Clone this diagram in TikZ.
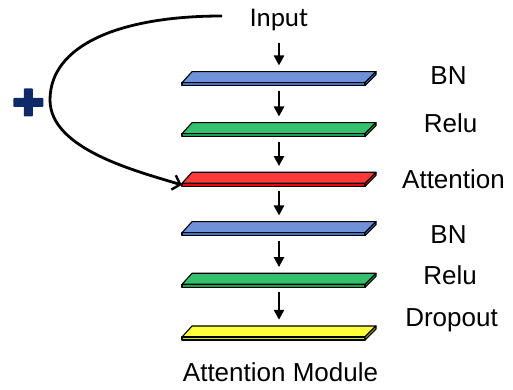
\documentclass[tikz,border=0pt]{standalone}
\usepackage{fontspec}
\setmainfont{Liberation Sans}
\newfontfamily\inputfont{Carlito}
\usetikzlibrary{arrows.meta,calc}

\definecolor{bnTop}{RGB}{110,145,215}
\definecolor{bnFront}{RGB}{68,114,196}
\definecolor{reluTop}{RGB}{52,192,108}
\definecolor{reluFront}{RGB}{30,160,80}
\definecolor{attTop}{RGB}{255,58,58}
\definecolor{attFront}{RGB}{232,10,10}
\definecolor{dropTop}{RGB}{255,255,60}
\definecolor{dropFront}{RGB}{222,222,20}
\definecolor{plusblue}{RGB}{14,42,104}

\tikzset{
  layerbox/.style={rectangle, minimum width=194pt, minimum height=14pt, inner sep=0pt},
  lbl/.style={anchor=base, inner sep=0pt, font=\fontsize{26}{30}\selectfont},
  flow/.style={line width=2.4pt, -{Triangle[width=10pt,length=10pt]}, shorten <=5pt, shorten >=6pt},
  skip/.style={line width=2.8pt, -{Straight Barb[length=7pt,width=15pt,line width=2.4pt]}},
  edge/.style={draw=black, line width=1.1pt, line join=round}
}

% one flat slab, drawn around the centre of layer node #1
\newcommand\drawslab[3]{%
  \begin{scope}[shift={(#1.center)}]
    \filldraw[edge, fill=#2] (-87,7) -- (97,7) -- (86,-4) -- (-97,-4) -- cycle;
    \filldraw[edge, fill=#3] (-97,-4) -- (86,-4) -- (86,-7) -- (-97,-7) -- cycle;
    \filldraw[edge, fill=#3] (86,-4) -- (97,7) -- (97,4) -- (86,-7) -- cycle;
  \end{scope}}

\begin{document}
\begin{tikzpicture}[x=1pt,y=1pt]
  \useasboundingbox (0,0) rectangle (513,390);

  % layer stack
  \node[layerbox] (bn1)   at (279,311.3) {};
  \node[layerbox] (relu1) at (279,260.3) {};
  \node[layerbox] (att)   at (279,210.7) {};
  \node[layerbox] (bn2)   at (279,161.3) {};
  \node[layerbox] (relu2) at (279,109.7) {};
  \node[layerbox] (drop)  at (279,57)    {};

  \drawslab{bn1}{bnTop}{bnFront}
  \drawslab{relu1}{reluTop}{reluFront}
  \drawslab{att}{attTop}{attFront}
  \drawslab{bn2}{bnTop}{bnFront}
  \drawslab{relu2}{reluTop}{reluFront}
  \drawslab{drop}{dropTop}{dropFront}

  % texts
  \node[lbl, font=\inputfont\fontsize{27}{30}\selectfont] (input) at (279,363.3) {Input};
  \node[lbl] (lbn1)   at (448.5,305.7) {BN};
  \node[lbl] (lrelu1) at (450.5,257.7) {Relu};
  \node[lbl] (latt)   at (453.5,201)   {Attention};
  \node[lbl] (lbn2)   at (448.5,146.7) {BN};
  \node[lbl] (lrelu2) at (450,105)     {Relu};
  \node[lbl] (ldrop)  at (451.5,63.3)  {Dropout};
  \node[lbl] (title)  at (280.5,8.3)   {Attention Module};

  % forward arrows
  \coordinate (inbot) at (279,347);
  \draw[flow, shorten <=0pt] (inbot) -- (bn1.north);
  \draw[flow] (bn1.south) -- (relu1.north);
  \draw[flow] (relu1.south) -- (att.north);
  \draw[flow] (att.south) -- (bn2.north);
  \draw[flow] (bn2.south) -- (relu2.north);
  \draw[flow] (relu2.south) -- (drop.north);

  % residual connection
  \coordinate (loopstart) at (222,374);
  \coordinate (loopend) at ($(att.south west)+(0,1.5)$);
  \draw[skip] (loopstart) .. controls (120,374) and (50,345) .. (50,290)
              .. controls (50,240) and (140,218) .. (loopend);

  % plus sign
  \fill[plusblue, rounded corners=0.8pt] (13.3,283) rectangle (43.3,292);
  \fill[plusblue, rounded corners=0.8pt] (23.8,273.5) rectangle (32.8,301.5);
\end{tikzpicture}
\end{document}
